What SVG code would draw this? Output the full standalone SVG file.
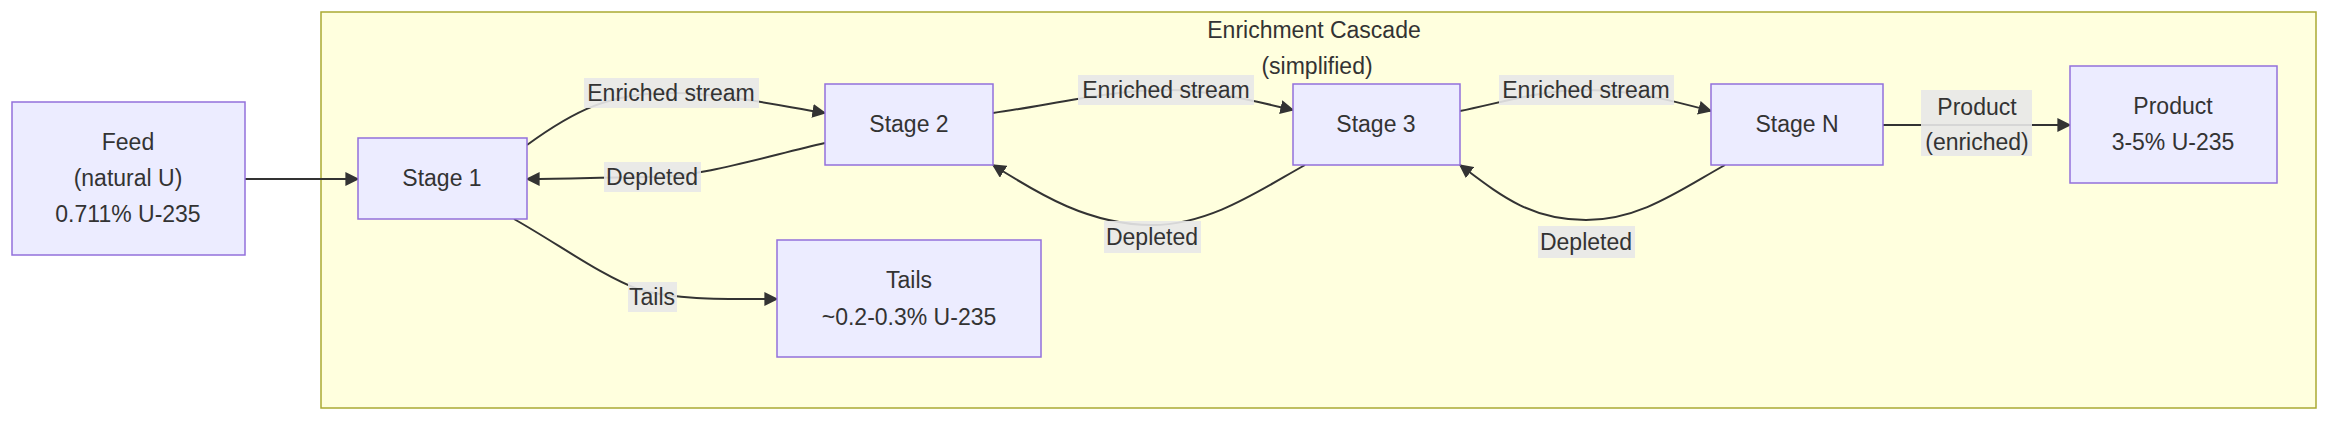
<svg xmlns="http://www.w3.org/2000/svg" width="2352" height="429" viewBox="0 0 2352 429">
<style>
text{font-family:"Liberation Sans",Arial,sans-serif;font-size:23px;fill:#333;text-anchor:middle;dominant-baseline:central}
.node rect{fill:#ECECFF;stroke:#9370DB;stroke-width:1.5}
.e{fill:none;stroke:#333;stroke-width:2;marker-end:url(#ah)}
.lb{fill:#E8E8E8;opacity:0.9}
</style>
<defs><marker id="ah" viewBox="0 0 10 10" refX="9" refY="5" markerWidth="7" markerHeight="7" orient="auto"><path d="M0,0L10,5L0,10z" fill="#333"/></marker></defs>
<g id="cluster"><rect x="321" y="12" width="1995" height="396" fill="#FFFFDE" stroke="#AAAA33" stroke-width="1.5"/>
<text x="1314" y="30">Enrichment Cascade</text><text x="1317" y="66">(simplified)</text></g>
<g id="connectors">
<path class="e" d="M245,179L358,179"/>
<path class="e" d="M527,145C575,110 610,93 671,93C720,93 770,104 825,113"/>
<path class="e" d="M825,143C760,158 700,177 652,177C610,177 570,179 527,179"/>
<path class="e" d="M514,219C560,245 600,275 640,290C680,300 720,299 777,299"/>
<path class="e" d="M993,113C1050,105 1110,90 1166,90C1210,90 1250,100 1293,110"/>
<path class="e" d="M1305,165C1260,190 1210,225 1152,225C1090,225 1040,195 993,165"/>
<path class="e" d="M1460,111C1500,103 1540,90 1586,90C1630,90 1670,100 1711,111"/>
<path class="e" d="M1725,165C1680,190 1640,220 1586,220C1530,220 1500,195 1460,165"/>
<path class="e" d="M1883,125L2070,125"/>
</g>
<g id="labels">
<rect class="lb" x="584" y="78" width="175" height="30"/><text x="671" y="93">Enriched stream</text>
<rect class="lb" x="604" y="162" width="97" height="30"/><text x="652" y="177">Depleted</text>
<rect class="lb" x="628" y="282" width="49" height="30"/><text x="652" y="297">Tails</text>
<rect class="lb" x="1078" y="75" width="176" height="30"/><text x="1166" y="90">Enriched stream</text>
<rect class="lb" x="1104" y="221" width="97" height="32"/><text x="1152" y="237">Depleted</text>
<rect class="lb" x="1499" y="75" width="175" height="30"/><text x="1586" y="90">Enriched stream</text>
<rect class="lb" x="1538" y="226" width="97" height="32"/><text x="1586" y="242">Depleted</text>
<rect class="lb" x="1921" y="90" width="111" height="66"/><text x="1977" y="107">Product</text><text x="1977" y="142">(enriched)</text>
</g>
<g id="feed" class="node"><rect x="12" y="102" width="233" height="153"/><text x="128" y="142">Feed</text><text x="128" y="178">(natural U)</text><text x="128" y="214">0.711% U-235</text></g>
<g id="stage1" class="node"><rect x="358" y="138" width="169" height="81"/><text x="442" y="178">Stage 1</text></g>
<g id="stage2" class="node"><rect x="825" y="84" width="168" height="81"/><text x="909" y="124">Stage 2</text></g>
<g id="stage3" class="node"><rect x="1293" y="84" width="167" height="81"/><text x="1376" y="124">Stage 3</text></g>
<g id="stageN" class="node"><rect x="1711" y="84" width="172" height="81"/><text x="1797" y="124">Stage N</text></g>
<g id="product" class="node"><rect x="2070" y="66" width="207" height="117"/><text x="2173" y="106">Product</text><text x="2173" y="142">3-5% U-235</text></g>
<g id="tails" class="node"><rect x="777" y="240" width="264" height="117"/><text x="909" y="280">Tails</text><text x="909" y="317">~0.2-0.3% U-235</text></g>
</svg>
